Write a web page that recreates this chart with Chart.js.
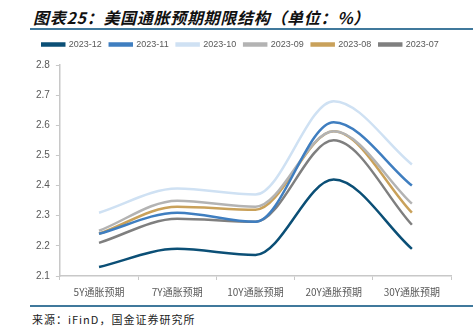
<!DOCTYPE html>
<html>
<head>
<meta charset="utf-8">
<script src="https://cdn.jsdelivr.net/npm/chart.js@4.4.0/dist/chart.umd.min.js"></script>
<style>
  body { margin: 0; background: #fff; width: 473px; height: 334px; overflow: hidden; position: relative; font-family: "Noto Sans CJK SC", sans-serif; }
  #title { position: absolute; left: 33px; top: 5px; font-size: 16px; font-weight: bold; font-style: italic; color: #111; letter-spacing: 0.7px; }
  .rule { position: absolute; left: 30px; right: 0; height: 2px; background: #40799c; }
  #source { position: absolute; left: 32px; top: 311px; font-size: 11px; color: #222; letter-spacing: 1px; }
  #wrap { position: absolute; left: 0; top: 32px; }
</style>
</head>
<body>
<div id="title">图表25：美国通胀预期期限结构（单位：%）</div>
<div class="rule" style="top:28px"></div>
<div id="wrap"><canvas id="chart" width="473" height="272"></canvas></div>
<div class="rule" style="top:305px"></div>
<div id="source">来源：iFinD，国金证券研究所</div>
<script>
// Data
const categories = ['5Y通胀预期', '7Y通胀预期', '10Y通胀预期', '20Y通胀预期', '30Y通胀预期'];
const seriesNames = ['2023-12', '2023-11', '2023-10', '2023-09', '2023-08', '2023-07'];
const s202312 = [2.13, 2.19, 2.17, 2.42, 2.19];
const s202311 = [2.24, 2.31, 2.28, 2.61, 2.40];
const s202310 = [2.31, 2.39, 2.37, 2.68, 2.47];
const s202309 = [2.25, 2.35, 2.33, 2.58, 2.34];
const s202308 = [2.24, 2.33, 2.32, 2.58, 2.31];
const s202307 = [2.21, 2.29, 2.28, 2.55, 2.27];
const yTicks = [2.1, 2.2, 2.3, 2.4, 2.5, 2.6, 2.7, 2.8];

const colors = ['#0b4f76', '#3f7ec0', '#cfe1f3', '#b3b3b3', '#c9a15a', '#7f7f7f'];
const values = [s202312, s202311, s202310, s202309, s202308, s202307];

// extra gap under the legend
const legendGap = {
    id: 'legendGap',
    beforeInit(chart) {
        const origFit = chart.legend.fit;
        chart.legend.fit = function () {
            origFit.bind(chart.legend)();
            this.height += 6;
        };
    }
};

const ctx = document.getElementById('chart').getContext('2d');
new Chart(ctx, {
    type: 'line',
    data: {
        labels: categories,
        datasets: seriesNames.map((name, i) => ({
            label: name,
            data: values[i],
            borderColor: colors[i],
            backgroundColor: colors[i],
            borderWidth: 2.5,
            pointRadius: 0,
            cubicInterpolationMode: 'monotone',
            fill: false
        }))
    },
    options: {
        responsive: false,
        animation: false,
        layout: { padding: { left: 30, right: 22, top: 0, bottom: 0 } },
        plugins: {
            legend: {
                position: 'top',
                labels: {
                    boxWidth: 22,
                    boxHeight: 2,
                    padding: 8,
                    color: '#595959',
                    font: { family: 'Liberation Sans, Arial', size: 9 }
                }
            },
            tooltip: { enabled: false }
        },
        scales: {
            x: {
                offset: true,
                grid: { display: true, drawOnChartArea: false, offset: true, color: '#c8c8c8', tickLength: 4 },
                border: { color: '#c8c8c8', width: 1.5 },
                ticks: { color: '#595959', font: { family: 'Noto Sans CJK SC', size: 10 }, padding: 6 }
            },
            y: {
                min: 2.1,
                max: 2.8,
                afterBuildTicks: axis => { axis.ticks = yTicks.map(v => ({ value: v })); },
                grid: { display: true, drawOnChartArea: false, color: '#c8c8c8', tickLength: 4 },
                border: { color: '#c8c8c8', width: 1.5 },
                ticks: {
                    color: '#595959',
                    font: { family: 'Liberation Sans, Arial', size: 10 },
                    padding: 6,
                    callback: v => v.toFixed(1)
                }
            }
        }
    },
    plugins: [legendGap]
});
</script>
</body>
</html>
